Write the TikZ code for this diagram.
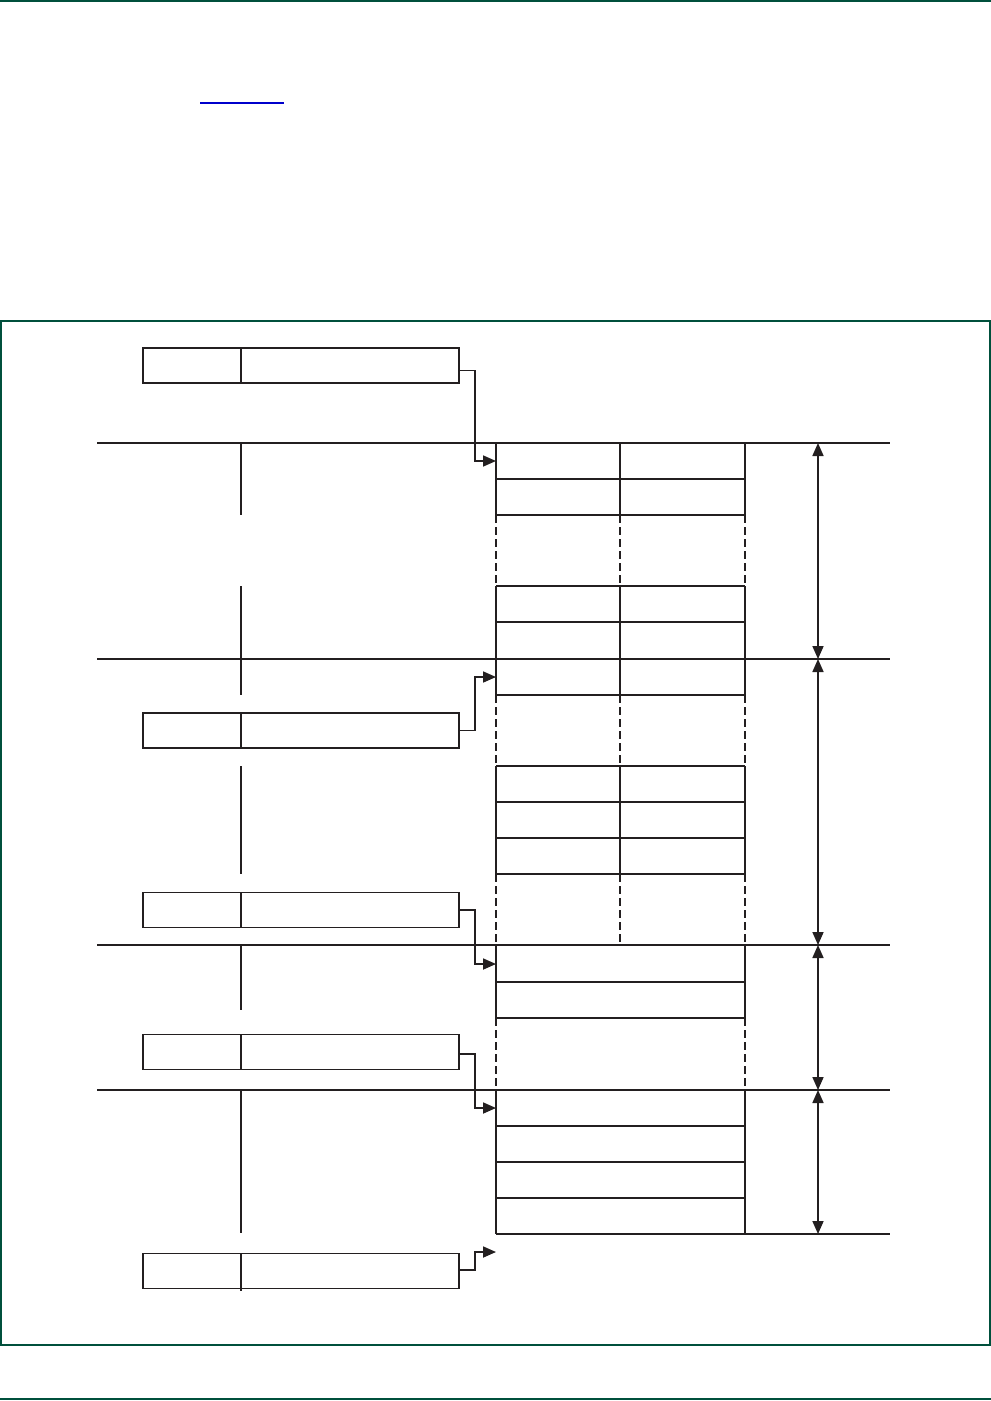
\documentclass[tikz,border=0pt]{standalone}
\usetikzlibrary{arrows.meta}
\definecolor{ink}{HTML}{231F20}
\definecolor{framegreen}{HTML}{00503C}
\definecolor{linkblue}{HTML}{0000CC}
\begin{document}
\begin{tikzpicture}[x=1pt,y=-1pt,
  ln/.style={draw=ink,line width=1.7pt},
  dsh/.style={ln,dash pattern=on 8pt off 4pt},
  cellL/.style={draw=ink,line width=1.7pt,minimum width=98pt,minimum height=35pt,inner sep=0pt,outer sep=0pt},
  cellR/.style={cellL,minimum width=218pt},
  conn/.style={ln,-{Triangle[length=13pt,width=11pt]}},
  dim/.style={ln,{Triangle[length=13pt,width=11pt]}-{Triangle[length=13pt,width=11pt]}}
]
\useasboundingbox (0,0) rectangle (991,1401);
% page rules and frame
\draw[framegreen,line width=2pt] (0,1) -- (991,1);
\draw[framegreen,line width=2pt] (0,1399) -- (991,1399);
\draw[framegreen,line width=1.5pt] (0.75,321) rectangle (990,1345);
\draw[linkblue,line width=1.2pt] (200,103) -- (284,103);

% boxes
\node[cellL] (b1l) at (192,365.5) {};
\node[cellR] (b1r) at (350,365.5) {};
\node[cellL] (b2l) at (192,730.5) {};
\node[cellR] (b2r) at (350,730.5) {};
\node[cellL] (b3l) at (192,910) {};
\node[cellR] (b3r) at (350,910) {};
\node[cellL] (b4l) at (192,1052) {};
\node[cellR] (b4r) at (350,1052) {};
\node[cellL] (b5l) at (192,1271) {};
\node[cellR] (b5r) at (350,1271) {};

% targets
\coordinate (t1) at (496,461);
\coordinate (t2) at (496,677);
\coordinate (t3) at (496,964);
\coordinate (t4) at (496,1108);
\coordinate (t5) at (496,1252);

% connectors
\draw[conn] ([yshift=-5pt]b1r.east) -- ++(16,0) |- (t1);
\draw[conn] (b2r.east) -- ++(16,0) |- (t2);
\draw[conn] (b3r.east) -- ++(16,0) |- (t3);
\draw[conn] ([yshift=-2pt]b4r.east) -- ++(16,0) |- (t4);
\draw[conn] ([yshift=1pt]b5r.east) -- ++(16,0) |- (t5);

% long horizontal lines
\foreach \y in {443,659,945,1090} \draw[ln] (97,\y) -- (890,\y);
\draw[ln] (496,1234) -- (890,1234);

% left vertical segments
\draw[ln] (241,443) -- (241,515);
\draw[ln] (241,586) -- (241,695);
\draw[ln] (241,766) -- (241,874);
\draw[ln] (241,945) -- (241,1010);
\draw[ln] (241,1090) -- (241,1233);
\draw[ln] (241,1289) -- (241,1291);

% table horizontal lines
\foreach \y in {479,515,586,622,695,766,802,838,874,982,1018,1126,1162,1198}
  \draw[ln] (496,\y) -- (745,\y);

% table verticals: outer
\foreach \x in {496,745}{
  \draw[ln] (\x,443) -- (\x,515);
  \draw[dsh] (\x,515) -- (\x,586);
  \draw[ln] (\x,586) -- (\x,695);
  \draw[dsh] (\x,695) -- (\x,766);
  \draw[ln] (\x,766) -- (\x,874);
  \draw[dsh] (\x,874) -- (\x,945);
  \draw[ln] (\x,945) -- (\x,1018);
  \draw[dsh] (\x,1018) -- (\x,1090);
  \draw[ln] (\x,1090) -- (\x,1234);
}
% middle column
\draw[ln] (620,443) -- (620,515);
\draw[dsh] (620,515) -- (620,586);
\draw[ln] (620,586) -- (620,695);
\draw[dsh] (620,695) -- (620,766);
\draw[ln] (620,766) -- (620,874);
\draw[dsh] (620,874) -- (620,945);

% dimension arrows
\coordinate (d0) at (818,443);
\coordinate (d1) at (818,659);
\coordinate (d2) at (818,945);
\coordinate (d3) at (818,1090);
\coordinate (d4) at (818,1234);
\draw[dim] (d0) -- (d1);
\draw[dim] (d1) -- (d2);
\draw[dim] (d2) -- (d3);
\draw[dim] (d3) -- (d4);
\end{tikzpicture}
\end{document}
